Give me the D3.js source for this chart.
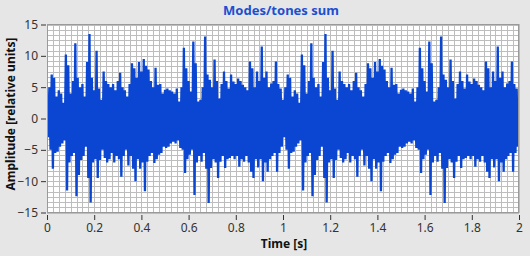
<!DOCTYPE html>
<html>
<head>
<meta charset="utf-8">
<script src="https://cdn.jsdelivr.net/npm/d3@7/dist/d3.min.js"></script>
<style>
  html, body { margin: 0; padding: 0; background: #e6e6e6; }
  #chart { width: 530px; height: 256px; }
  text { font-family: "Noto Sans", "Open Sans", sans-serif; }
</style>
</head>
<body>
<div id="chart"></div>
<script>
(function(){

    const width = 530;
    const height = 256;

    // peak values, one pair per 10 ms bin (0 .. 2 s)
    const binWidth = 0.01;
    const upperPeaks = [
        3.0, 5.0, 7.0, 6.5, 3.5, 4.5, 4.0, 2.5, 10.2, 8.5,
        4.0, 6.0, 12.0, 6.5, 5.0, 5.5, 3.5, 9.0, 13.5, 6.5,
        4.5, 10.8, 4.8, 3.0, 7.5, 6.0, 5.5, 5.0, 5.5, 4.5,
        6.0, 7.3, 5.0, 4.5, 3.5, 5.5, 8.8, 8.0, 6.5, 9.0,
        7.5, 9.5, 8.4, 7.8, 6.0, 5.0, 8.1, 5.4, 5.5, 4.0,
        4.6, 4.8, 4.5, 4.3, 4.0, 4.8, 2.7, 5.0, 11.3, 8.0,
        6.0, 4.3, 12.3, 8.8, 2.7, 3.0, 5.0, 13.1, 7.0, 6.2,
        5.0, 9.4, 6.0, 3.2, 5.5, 7.5, 6.0, 4.8, 7.0, 5.9,
        5.5, 6.4, 6.0, 5.4, 5.0, 4.5, 9.1, 8.0, 5.0, 7.5,
        6.0, 11.5, 6.5, 7.5, 5.0, 5.6, 6.0, 9.1, 5.5, 4.8,
        3.0, 5.0, 7.0, 6.5, 3.5, 4.5, 4.0, 2.5, 10.2, 8.5,
        4.0, 6.0, 12.0, 6.5, 5.0, 5.5, 3.5, 9.0, 13.5, 6.5,
        4.5, 10.8, 4.8, 3.0, 7.5, 6.0, 5.5, 5.0, 5.5, 4.5,
        6.0, 7.3, 5.0, 4.5, 3.5, 5.5, 8.8, 8.0, 6.5, 9.0,
        7.5, 9.5, 8.4, 7.8, 6.0, 5.0, 8.1, 5.4, 5.5, 4.0,
        4.6, 4.8, 4.5, 4.3, 4.0, 4.8, 2.7, 5.0, 11.3, 8.0,
        6.0, 4.3, 12.3, 8.8, 2.7, 3.0, 5.0, 13.1, 7.0, 6.2,
        5.0, 9.4, 6.0, 3.2, 5.5, 7.5, 6.0, 4.8, 7.0, 5.9,
        5.5, 6.4, 6.0, 5.4, 5.0, 4.5, 9.1, 8.0, 5.0, 7.5,
        6.0, 11.5, 6.5, 7.5, 5.0, 5.6, 6.0, 9.1, 5.5, 4.8
    ];
    const lowerPeaks = [
        -3.0, -5.0, -8.0, -5.5, -5.3, -4.5, -4.0, -3.5, -11.5, -7.0,
        -6.0, -5.5, -12.4, -9.0, -6.6, -6.0, -4.5, -9.5, -13.4, -7.0,
        -6.5, -9.5, -6.6, -5.0, -6.3, -7.0, -6.5, -5.5, -7.0, -6.0,
        -6.5, -9.3, -6.0, -5.0, -7.5, -6.0, -8.0, -10.0, -6.5, -8.0,
        -7.0, -11.6, -6.9, -6.0, -5.5, -7.1, -6.5, -5.8, -5.5, -4.5,
        -4.7, -4.5, -4.0, -3.7, -4.0, -3.5, -4.7, -5.0, -8.7, -6.5,
        -5.8, -5.0, -12.2, -7.0, -6.0, -6.9, -5.5, -8.0, -13.5, -7.9,
        -6.5, -7.0, -9.5, -6.9, -6.0, -7.9, -6.5, -6.3, -6.0, -6.5,
        -6.0, -7.7, -6.5, -6.9, -6.0, -7.0, -8.5, -9.5, -6.5, -7.8,
        -6.5, -10.0, -7.0, -8.5, -6.5, -6.0, -5.5, -8.5, -5.5, -4.5,
        -3.0, -5.0, -8.0, -5.5, -5.3, -4.5, -4.0, -3.5, -11.5, -7.0,
        -6.0, -5.5, -12.4, -9.0, -6.6, -6.0, -4.5, -9.5, -13.4, -7.0,
        -6.5, -9.5, -6.6, -5.0, -6.3, -7.0, -6.5, -5.5, -7.0, -6.0,
        -6.5, -9.3, -6.0, -5.0, -7.5, -6.0, -8.0, -10.0, -6.5, -8.0,
        -7.0, -11.6, -6.9, -6.0, -5.5, -7.1, -6.5, -5.8, -5.5, -4.5,
        -4.7, -4.5, -4.0, -3.7, -4.0, -3.5, -4.7, -5.0, -8.7, -6.5,
        -5.8, -5.0, -12.2, -7.0, -6.0, -6.9, -5.5, -8.0, -13.5, -7.9,
        -6.5, -7.0, -9.5, -6.9, -6.0, -7.9, -6.5, -6.3, -6.0, -6.5,
        -6.0, -7.7, -6.5, -6.9, -6.0, -7.0, -8.5, -9.5, -6.5, -7.8,
        -6.5, -10.0, -7.0, -8.5, -6.5, -6.0, -5.5, -8.5, -5.5, -4.5
    ];

    const xTicks = [0, 0.2, 0.4, 0.6, 0.8, 1, 1.2, 1.4, 1.6, 1.8, 2];
    const yTicks = [-15, -10, -5, 0, 5, 10, 15];

    const plot = {left: 47, right: 519, top: 24, bottom: 213};

    const svg = d3.select("#chart")
        .append("svg")
        .attr("width", width)
        .attr("height", height);

    const x = d3.scaleLinear().domain([0, 2]).range([plot.left, plot.right]);
    const y = d3.scaleLinear().domain([-15, 15]).range([plot.bottom - 0.5, plot.top + 0.5]);

    // white plot area
    svg.append("rect")
        .attr("x", plot.left)
        .attr("y", plot.top)
        .attr("width", plot.right - plot.left)
        .attr("height", plot.bottom - plot.top)
        .attr("fill", "#ffffff");

    // minor grid
    const gx = d3.range(0, 2.0001, 0.025);
    const gy = d3.range(-15, 15.0001, 5 / 6);
    const grid = svg.append("g").attr("stroke", "#bdbdbd").attr("stroke-width", 1);
    grid.selectAll(".vx").data(gx).enter().append("line")
        .attr("x1", d => Math.round(x(d)) + 0.5).attr("x2", d => Math.round(x(d)) + 0.5)
        .attr("y1", plot.top).attr("y2", plot.bottom);
    grid.selectAll(".hy").data(gy).enter().append("line")
        .attr("y1", d => Math.round(y(d)) + 0.5).attr("y2", d => Math.round(y(d)) + 0.5)
        .attr("x1", plot.left).attr("x2", plot.right);

    svg.append("clipPath").attr("id", "clip")
        .append("rect")
        .attr("x", plot.left).attr("y", plot.top)
        .attr("width", plot.right - plot.left).attr("height", plot.bottom - plot.top);

    // waveform: zig-zag between the upper and lower peak of every bin
    const pts = [];
    upperPeaks.forEach(function(v, i){
        pts.push([i * binWidth, v]);
        pts.push([i * binWidth + binWidth / 2, lowerPeaks[i]]);
    });

    const line = d3.line()
        .x(d => x(d[0]))
        .y(d => y(d[1]));

    svg.append("path")
        .datum(pts)
        .attr("clip-path", "url(#clip)")
        .attr("fill", "none")
        .attr("stroke", "#0a46d2")
        .attr("stroke-width", 2.3)
        .attr("stroke-linejoin", "bevel")
        .attr("d", line);

    // frame
    svg.append("rect")
        .attr("x", plot.left + 0.5)
        .attr("y", plot.top + 0.5)
        .attr("width", plot.right - plot.left - 1)
        .attr("height", plot.bottom - plot.top - 1)
        .attr("fill", "none")
        .attr("stroke", "#9a9a9a");

    // axes
    const xAxis = d3.axisBottom(x).tickValues(xTicks).tickSize(5).tickPadding(3)
        .tickFormat(d3.format("~g"));
    const gxAxis = svg.append("g")
        .attr("transform", `translate(0,${plot.bottom + 2})`)
        .call(xAxis);

    const yAxis = d3.axisLeft(y).tickValues(yTicks).tickSize(5).tickPadding(3);
    const gyAxis = svg.append("g")
        .attr("transform", `translate(${plot.left - 1},0)`)
        .call(yAxis);

    [gxAxis, gyAxis].forEach(function(g){
        g.select(".domain").remove();
        g.selectAll(".tick line").attr("stroke", "#333");
        g.selectAll(".tick text")
            .attr("fill", "#333")
            .style("font-size", "12px")
            .style("font-family", '"Noto Sans", sans-serif');
    });

    // title and labels
    svg.append("text")
        .attr("x", 281)
        .attr("y", 15)
        .attr("text-anchor", "middle")
        .attr("fill", "#1c4fd0")
        .style("font-size", "13px")
        .style("font-weight", "bold")
        .text("Modes/tones sum");

    svg.append("text")
        .attr("x", 284)
        .attr("y", 248)
        .attr("text-anchor", "middle")
        .attr("fill", "#111")
        .style("font-size", "12px")
        .style("font-weight", "bold")
        .text("Time [s]");

    svg.append("text")
        .attr("transform", "translate(15,114) rotate(-90)")
        .attr("text-anchor", "middle")
        .attr("fill", "#111")
        .style("font-size", "12px")
        .style("font-weight", "bold")
        .text("Amplitude [relative units]");

}());
</script>
</body>
</html>
